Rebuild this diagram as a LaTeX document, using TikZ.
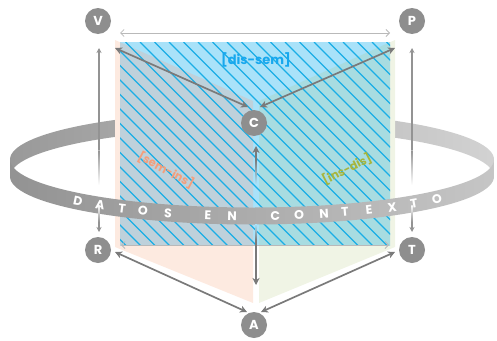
\documentclass[tikz,border=0pt]{standalone}
\usepackage{fontspec}
\setmainfont{Poppins}
\usetikzlibrary{positioning,
                calc,
                arrows.meta}
\definecolor{skyfill}{HTML}{A9E2F9}
\definecolor{hatchblue}{HTML}{1AAEE6}
\definecolor{peachfill}{HTML}{FDEAE0}
\definecolor{sagefill}{HTML}{F0F4E5}
\definecolor{peachsky}{HTML}{BED1DB}
\definecolor{sagesky}{HTML}{A8DCE1}
\definecolor{vertexgray}{HTML}{8E8E8E}
\definecolor{arrowgray}{HTML}{7A7A7A}
\definecolor{semorange}{HTML}{F49E7B}
\definecolor{insolive}{HTML}{A7B53B}
\definecolor{disblue}{HTML}{17A8EE}

\begin{document}
\begin{tikzpicture}[x=1pt,y=-1pt,
>={Stealth[length=7pt,width=7pt,inset=2pt]}]

%--------------------------------------------------
% STYLES
%--------------------------------------------------

\tikzset{
vertex/.style={
circle,
fill=vertexgray,
text=white,
minimum size=26pt,
inner sep=0pt,
font=\fontsize{13}{13}\selectfont\bfseries
},
bigline/.style={
draw=arrowgray,
line width=1.7pt
},
sideline/.style={
draw=gray!85,
line width=1.1pt,
>={Stealth[length=5pt,width=5pt,inset=1.5pt]}
},
thinline/.style={
draw=gray!55,
line width=0.8pt,
{Straight Barb[length=3.5pt,width=7pt]}-{Straight Barb[length=3.5pt,width=7pt]}
},
ringletter/.style={
text=white,
inner sep=0pt,
font=\fontsize{12.5}{12.5}\selectfont\bfseries
},
facelabel/.style={
inner sep=0pt,
font=\fontsize{13}{13}\selectfont\bfseries
}
}

\useasboundingbox (0,0) rectangle (497,340);

%--------------------------------------------------
% RING (BACK)
%--------------------------------------------------

\coordinate (ring) at (252,168);

\shade[left color=gray!80, middle color=gray!5, right color=gray!35]
(10,159.5) arc[start angle=180,end angle=360,x radius=242,y radius=48]
-- (494,176.5) arc[start angle=360,end angle=180,x radius=242,y radius=48]
-- cycle;

%--------------------------------------------------
% FACES
%--------------------------------------------------

\fill[peachfill] (115,40) -- (253,101) -- (253,303) -- (115,247) -- cycle;
\fill[sagefill] (395,40) -- (259,101) -- (259,303) -- (395,247) -- cycle;

\begin{scope}
\clip (120,42) rectangle (390,245);
\fill[skyfill] (120,42) rectangle (390,245);
\fill[peachsky] (115,40) -- (253,101) -- (253,303) -- (115,247) -- cycle;
\fill[sagesky] (395,40) -- (259,101) -- (259,303) -- (395,247) -- cycle;
\foreach \i in {0,...,34}
{
\draw[hatchblue,line width=1.2pt]
(\i*14.5-92,42)--++(262,262);
}
\end{scope}

%--------------------------------------------------
% LABELS
%--------------------------------------------------

\node[facelabel,text=disblue] (dissem) at (256,60) {[dis-sem]};

\node[facelabel,text=semorange,rotate=-28,font=\fontsize{11.5}{11.5}\selectfont\bfseries]
(semins) at (166,170) {[sem-ins]};

\node[facelabel,text=insolive,rotate=27,font=\fontsize{11.5}{11.5}\selectfont\bfseries]
(insdis) at (347,169) {[ins-dis]};

%--------------------------------------------------
% RING (FRONT)
%--------------------------------------------------

\shade[left color=gray!85, middle color=gray!90!black, right color=gray!45]
(10,159.5) arc[start angle=180,end angle=0,x radius=242,y radius=48]
-- (494,176.5) arc[start angle=0,end angle=180,x radius=242,y radius=48]
-- cycle;

\foreach \ch/\t in {D/136.0,A/128.9,T/122.5,O/116.8,S/110.3,
                    E/100.5,N/94.7,
                    C/84.5,O/78.8,N/72.7,T/67.4,E/61.1,X/54.6,T/48.0,O/40.2}
{
\node[ringletter,rotate={atan(48*cos(\t)/(242*sin(\t)))}]
at ($(ring)+(\t:242 and 48)$) {\ch};
}

%--------------------------------------------------
% VERTICES
%--------------------------------------------------

\node[vertex] (V) at (98,21) {V};
\node[vertex] (P) at (412,21) {P};
\node[vertex] (C) at (254,123) {C};
\node[vertex] (R) at (98,250) {R};
\node[vertex] (T) at (412,250) {T};
\node[vertex] (A) at (254,325) {A};

%--------------------------------------------------
% ARROWS
%--------------------------------------------------

% ends
\coordinate (vc-v) at (115,48);
\coordinate (vc-c) at (248,107);
\coordinate (pc-p) at (395,48);
\coordinate (pc-c) at (260,107);
\coordinate (ra-r) at (115,252);
\coordinate (ra-a) at (247,312);
\coordinate (ta-t) at (395,252);
\coordinate (ta-a) at (261,312);
\coordinate (vp-v) at (120,33);
\coordinate (vp-p) at (390,33);
\coordinate (rt-r) at (121,245);
\coordinate (rt-t) at (389,245);

\draw[bigline,<->] (vc-v)--(vc-c);
\draw[bigline,<->] (pc-p)--(pc-c);
\draw[bigline,<->] (ra-r)--(ra-a);
\draw[bigline,<->] (ta-t)--(ta-a);

\draw[thinline] (vp-v)--(vp-p);
\draw[thinline] (rt-r)--(rt-t);

% V-R
\coordinate (vr-v) at (99,48);
\coordinate (vr-r) at (99,232);
\draw[sideline,<-] (vr-v)--(99,150);
\shade[top color=gray!85,bottom color=white] (98.45,150) rectangle (99.55,185);
\shade[top color=white,bottom color=gray!85] (98.45,205) rectangle (99.55,222);
\draw[sideline,->] (99,222)--(vr-r);

% P-T
\coordinate (pt-p) at (412,48);
\coordinate (pt-t) at (412,232);
\draw[sideline,<-] (pt-p)--(412,150);
\shade[top color=gray!85,bottom color=white] (411.45,150) rectangle (412.55,185);
\shade[top color=white,bottom color=gray!85] (411.45,205) rectangle (412.55,222);
\draw[sideline,->] (412,222)--(pt-t);

% C-A
\coordinate (ca-c) at (256,146);
\coordinate (ca-a) at (256,285);
\draw[bigline,<-] (ca-c)--(256,160);
\shade[top color=arrowgray,bottom color=skyfill] (255.15,160) rectangle (256.85,184);
\shade[top color=skyfill,bottom color=arrowgray] (255.15,224) rectangle (256.85,240);
\draw[bigline,->] (256,240)--(ca-a);

\end{tikzpicture}
\end{document}
